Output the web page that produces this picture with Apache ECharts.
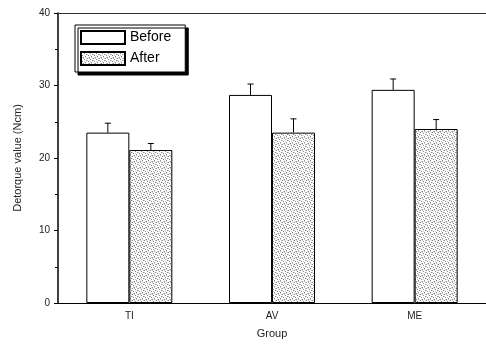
<!DOCTYPE html>
<html><head><meta charset="utf-8">
<script src="https://cdn.jsdelivr.net/npm/echarts@6/dist/echarts.min.js"></script>
<style>html,body{margin:0;padding:0;background:#fff}#c{width:486px;height:353px}</style>
</head><body><div id="c"></div>
<script>
const categories = ['TI', 'AV', 'ME'];
const beforeValues = [23.5, 28.7, 29.4];
const afterValues = [21.1, 23.5, 24.0];
const beforeErr = [1.3, 1.5, 1.5];
const afterErr = [0.9, 1.9, 1.3];
const yTicks = [0, 10, 20, 30, 40];

function makePattern() {
  const c = document.createElement('canvas');
  c.width = 6; c.height = 6;
  const g = c.getContext('2d');
  g.fillStyle = '#fff'; g.fillRect(0, 0, 6, 6);
  g.fillStyle = '#888';
  [[0,0],[3,1],[1,3],[4,4],[2,5],[5,2]].forEach(p => g.fillRect(p[0], p[1], 1, 1));
  g.fillStyle = '#c8c8c8';
  [[2,0],[5,0],[0,2],[3,3],[1,5],[4,5]].forEach(p => g.fillRect(p[0], p[1], 1, 1));
  return c;
}
const pat = { image: makePattern(), repeat: 'repeat' };
const BW = 43;

function errSeries(vals, errs, off) {
  return {
    type: 'custom',
    z: 5,
    data: vals.map((v, i) => [i, v, v + errs[i]]),
    renderItem: function (params, api) {
      const p0 = api.coord([api.value(0), api.value(1)]);
      const p1 = api.coord([api.value(0), api.value(2)]);
      const x = p0[0] + off;
      return {
        type: 'group',
        children: [
          { type: 'line', shape: { x1: x, y1: p0[1], x2: x, y2: p1[1] }, style: { stroke: '#000', lineWidth: 1 } },
          { type: 'line', shape: { x1: x - 3, y1: p1[1], x2: x + 3, y2: p1[1] }, style: { stroke: '#000', lineWidth: 1 } }
        ]
      };
    }
  };
}

const chart = echarts.init(document.getElementById('c'));
chart.setOption({
  animation: false,
  textStyle: { fontFamily: 'Liberation Sans' },
  grid: { left: 58, right: 0, top: 13, bottom: 50 },
  legend: {
    orient: 'vertical', left: 75, top: 25,
    data: ['Before', 'After'],
    itemWidth: 44, itemHeight: 13, itemGap: 6,
    padding: [5, 14, 6, 5],
    backgroundColor: '#fff', borderColor: '#000', borderWidth: 1, borderRadius: 0,
    shadowColor: '#000', shadowOffsetX: 3, shadowOffsetY: 3, shadowBlur: 0,
    textStyle: { fontSize: 14, color: '#000', fontFamily: 'Liberation Sans' },
    icon: 'rect'
  },
  xAxis: [{
    type: 'category', data: categories,
    name: 'Group', nameLocation: 'middle', nameGap: 25,
    nameTextStyle: { fontSize: 11, color: '#222' },
    axisLine: { lineStyle: { color: '#000', width: 1 } },
    axisTick: { show: false },
    axisLabel: { fontSize: 10, color: '#222', margin: 8 }
  }, {
    type: 'category', data: categories, position: 'top',
    axisLine: { show: true, lineStyle: { color: '#333', width: 1 } },
    axisTick: { show: false }, axisLabel: { show: false }
  }],
  yAxis: {
    type: 'value', min: 0, max: 40, interval: 10,
    name: 'Detorque value (Ncm)', nameLocation: 'middle', nameGap: 35,
    nameTextStyle: { fontSize: 11, color: '#222' },
    axisLine: { show: true, lineStyle: { color: '#000', width: 1.5 } },
    axisTick: { show: true, length: 4, lineStyle: { color: '#000' } },
    minorTick: { show: true, splitNumber: 2, length: 3, lineStyle: { color: '#000' } },
    splitLine: { show: false },
    axisLabel: { fontSize: 10, color: '#222', margin: 8, formatter: v => yTicks.includes(v) ? String(v) : '' }
  },
  series: [
    { name: 'Before', type: 'bar', data: beforeValues, barWidth: BW, barGap: '0%',
      itemStyle: { color: '#fff', borderColor: '#000', borderWidth: 1 } },
    { name: 'After', type: 'bar', data: afterValues, barWidth: BW, barGap: '0%',
      itemStyle: { color: pat, borderColor: '#000', borderWidth: 1 } },
    errSeries(beforeValues, beforeErr, -BW / 2),
    errSeries(afterValues, afterErr, BW / 2)
  ]
});
</script></body></html>
